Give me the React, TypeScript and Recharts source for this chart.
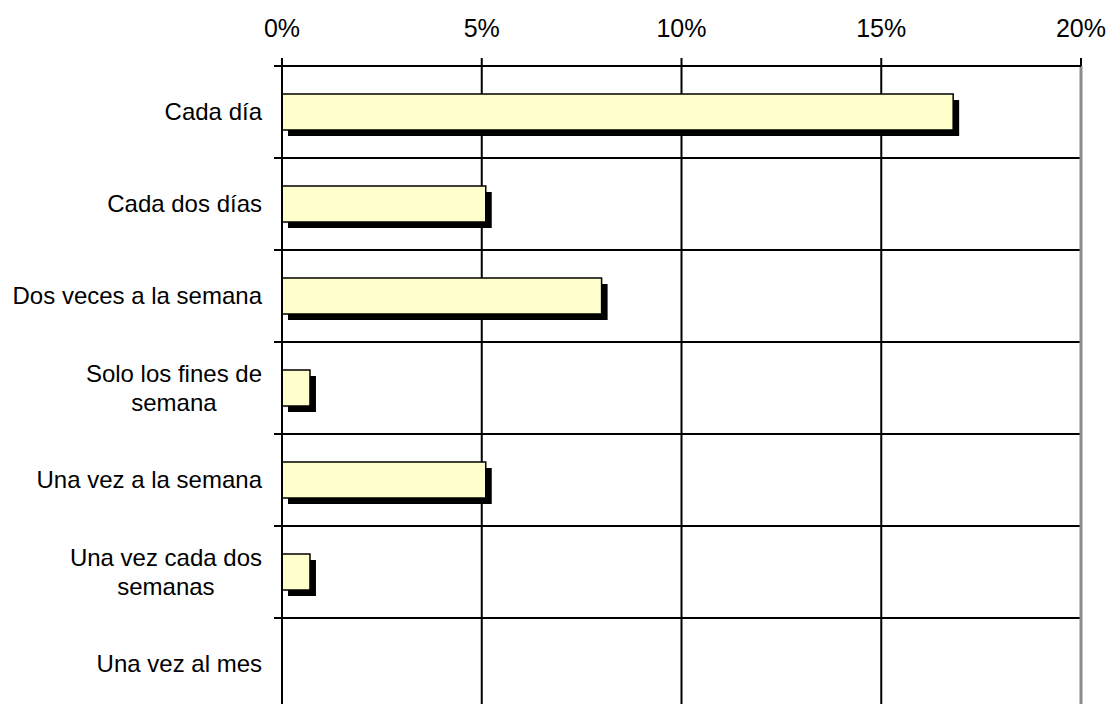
import { Bar, BarChart, CartesianGrid, ReferenceLine, XAxis, YAxis } from "recharts";

const CATEGORIES = [
  "Cada día",
  "Cada dos días",
  "Dos veces a la semana",
  "Solo los fines de\nsemana",
  "Una vez a la semana",
  "Una vez cada dos\nsemanas",
  "Una vez al mes",
];
const SHARES = [16.8, 5.1, 8.0, 0.7, 5.1, 0.7, 0];
const X_TICKS = [0, 5, 10, 15, 20];
const ROW_BOUNDS = [0, 1, 2, 3, 4, 5, 6, 7];

// row index kept so the boundary axis can be a plain numeric axis over the same rows
const data = CATEGORIES.map((name, i) => ({ name, share: SHARES[i], row: i + 0.5 }));

const FONT = '"Liberation Sans", Arial, sans-serif';
const LABEL_SIZE = 24;
const LINE_H = 29;

let ctx: CanvasRenderingContext2D | null = null;
const measure = (s: string) => {
  if (!ctx) {
    ctx = document.createElement("canvas").getContext("2d");
    if (ctx) ctx.font = `${LABEL_SIZE}px "Liberation Sans"`;
  }
  return ctx ? ctx.measureText(s).width : s.length * 12;
};

/** Category label: block right-aligned to the axis, wrapped lines centred inside the block. */
function CategoryTick(props: any) {
  const { x, y, payload } = props;
  const lines = String(payload.value).split("\n");
  const blockW = Math.max(...lines.map(measure));
  const cx = x - blockW / 2;
  return (
    <text fontSize={LABEL_SIZE} fontFamily={FONT} fill="#000" textAnchor="middle">
      {lines.map((l, i) => (
        <tspan key={i} x={cx} y={y + (i - (lines.length - 1) / 2) * LINE_H + 8}>
          {l}
        </tspan>
      ))}
    </text>
  );
}

const NoLabel = () => <g />;

/** Pale yellow bar with a hard black drop shadow. */
function ShadowBar(props: any) {
  const { x, y, width, height } = props;
  if (!width || width <= 0) return <g />;
  return (
    <g>
      <rect x={x + 6} y={y + 6} width={width} height={height} fill="#000" />
      <rect x={x} y={y} width={width} height={height} fill="#FFFFCC" stroke="#000" strokeWidth={1.5} />
    </g>
  );
}

export default function App() {
  return (
    <div style={{ position: "absolute", left: 0, top: 0, background: "#fff" }}>
      <BarChart width={1111} height={712} data={data} layout="vertical" margin={{ top: 0, right: 30, bottom: 2, left: 0 }}>
        <CartesianGrid horizontal={false} stroke="#000" strokeWidth={2} />
        <XAxis
          type="number"
          orientation="top"
          domain={[0, 20]}
          ticks={X_TICKS}
          interval={0}
          height={66}
          tickSize={8}
          tickMargin={21}
          tickFormatter={(v) => `${v}%`}
          tick={{ fill: "#000", fontSize: 25, fontFamily: FONT }}
          axisLine={{ stroke: "#000", strokeWidth: 2 }}
          tickLine={{ stroke: "#000", strokeWidth: 2 }}
        />
        <YAxis
          yAxisId="labels"
          type="category"
          dataKey="name"
          width={274}
          tickSize={0}
          tickMargin={12}
          axisLine={false}
          tickLine={false}
          tick={<CategoryTick />}
          interval={0}
        />
        <YAxis
          yAxisId="bounds"
          type="number"
          dataKey="row"
          domain={[0, 7]}
          allowDataOverflow
          reversed
          ticks={ROW_BOUNDS}
          interval={0}
          width={8}
          tickSize={8}
          tick={<NoLabel />}
          axisLine={{ stroke: "#000", strokeWidth: 2 }}
          tickLine={{ stroke: "#000", strokeWidth: 2 }}
        />
        {ROW_BOUNDS.map((b) => (
          <ReferenceLine key={b} yAxisId="bounds" y={b} stroke="#000" strokeWidth={2} ifOverflow="visible" />
        ))}
        <ReferenceLine yAxisId="bounds" x={20} stroke="#8c8c8c" strokeWidth={3} />
        <Bar yAxisId="labels" dataKey="share" barSize={36} shape={<ShadowBar />} isAnimationActive={false} />
      </BarChart>
    </div>
  );
}
